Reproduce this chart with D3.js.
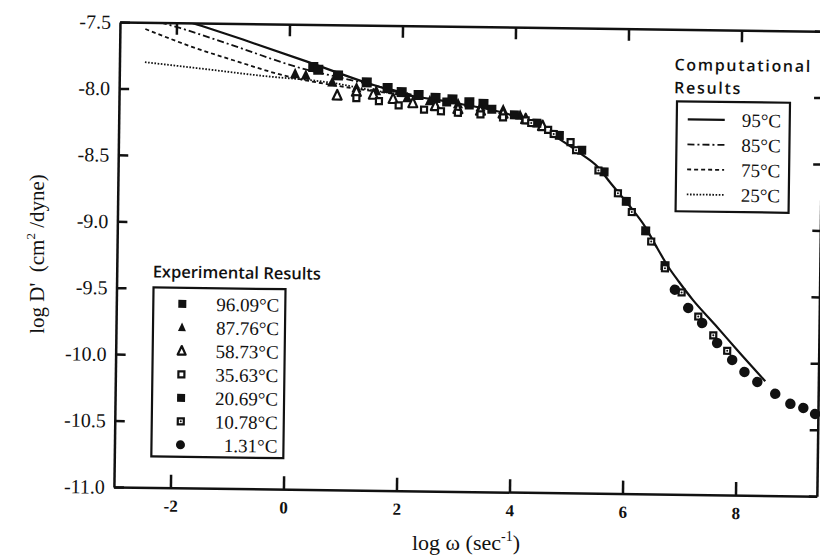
<!DOCTYPE html>
<html>
<head>
<meta charset="UTF-8">
<style>
  body { margin: 0; background: #fff; }
  svg { display: block; }
  text { fill: #111; }
</style>
</head>
<body>
<svg></svg>
<script src="https://d3js.org/d3.v7.min.js"></script>
<script>

// ---- data ----
const xTicks = [-2, 0, 2, 4, 6, 8];
const yTicks = [-7.5, -8.0, -8.5, -9.0, -9.5, -10.0, -10.5, -11.0];

const compLabels = ["95°C", "85°C", "75°C", "25°C"];
const comp95 = [[-2.55,-7.39],[-1.64,-7.51],[-0.82,-7.62],[0.32,-7.78],[1.39,-7.935],[2.0,-8.01],[3.0,-8.08],
  [4.0,-8.17],[4.5,-8.26],[4.81,-8.34],[5.2,-8.45],[5.48,-8.54],[5.71,-8.66],[6.07,-8.84],[6.34,-8.99],
  [6.56,-9.15],[6.76,-9.29],[6.95,-9.4],[7.2,-9.535],[7.6,-9.72],[8.0,-9.91],[8.5,-10.14]];
const comp85 = [[-2.55,-7.47],[-1.94,-7.539],[-1.0,-7.665],[0.2,-7.828],[1.0,-7.905],[1.6,-7.96],[2.2,-8.02]];
const comp75 = [[-2.55,-7.55],[-1.72,-7.68],[-1.0,-7.775],[0.05,-7.9],[0.8,-7.955],[1.5,-7.995],[2.2,-8.03]];
const comp25 = [[-2.55,-7.80],[-1.5,-7.845],[-0.5,-7.89],[0.78,-7.938],[1.5,-7.99],[2.2,-8.03]];

const expLabels = ["96.09°C", "87.76°C", "58.73°C", "35.63°C", "20.69°C", "10.78°C", "1.31°C"];
const exp9609 = [[0.43,-7.82],[0.52,-7.84],[0.87,-7.88],[1.38,-7.93],[1.75,-7.97],[2.0,-8.0],[2.3,-8.02],
  [2.6,-8.04],[2.9,-8.05],[3.2,-8.07],[3.45,-8.08]];
const exp8776 = [[0.11,-7.87],[0.3,-7.88],[0.77,-7.93],[1.2,-7.97],[1.55,-7.99],[2.1,-8.04],[2.5,-8.06],
  [3.0,-8.08],[3.4,-8.1],[3.8,-8.12],[4.1,-8.16]];
const exp5873 = [[0.86,-8.03],[1.2,-8.0],[1.5,-8.02],[1.85,-8.05],[2.2,-8.08],[2.6,-8.1],[3.0,-8.12],
  [3.4,-8.13],[3.8,-8.15],[4.2,-8.19],[4.5,-8.24]];
const exp3563 = [[1.2,-8.05],[1.6,-8.07],[1.95,-8.1],[2.4,-8.13],[2.7,-8.14],[3.0,-8.15],[3.4,-8.16],
  [3.8,-8.18],[4.2,-8.2],[4.6,-8.27],[5.0,-8.36]];
const exp2069 = [[2.8,-8.07],[3.2,-8.09],[3.6,-8.12],[4.0,-8.16],[4.4,-8.22],[4.8,-8.31],[5.2,-8.42],
  [5.6,-8.58],[6.0,-8.8],[6.35,-9.02],[6.7,-9.28]];
const exp1078 = [[4.3,-8.22],[4.7,-8.3],[5.1,-8.42],[5.5,-8.57],[5.85,-8.74],[6.1,-8.88],[6.45,-9.1],
  [6.7,-9.3],[7.0,-9.48],[7.3,-9.66],[7.57,-9.8],[7.82,-9.915]];
const exp131 = [[6.88,-9.46],[7.12,-9.596],[7.37,-9.708],[7.64,-9.857],[7.91,-9.983],[8.13,-10.072],
  [8.36,-10.146],[8.68,-10.234],[8.95,-10.308],[9.18,-10.337],[9.39,-10.381]];

// ---- layout ----
const width = 820, height = 557;
const plotW = 703, plotH = 465;

const svg = d3.select("svg").attr("width", width).attr("height", height);

// the scan is tilted slightly clockwise
const g = svg.append("g").attr("transform", "translate(120,22) rotate(0.75)");

const x = d3.scaleLinear().domain([-3, 9.44]).range([0, plotW]);
const y = d3.scaleLinear().domain([-7.5, -11]).range([0, plotH]);

const serif = "'Liberation Serif', 'DejaVu Serif', serif";

g.append("defs").append("clipPath").attr("id", "clip")
  .append("rect").attr("width", plotW).attr("height", plotH);

// axes, ticks point inward
let leftAxis = g.append("g")
  .call(d3.axisLeft(y).tickValues(yTicks).tickSizeInner(-10).tickSizeOuter(0).tickPadding(9)
    .tickFormat(d => d.toFixed(1)));
let bottomAxis = g.append("g").attr("transform", "translate(0," + plotH + ")")
  .call(d3.axisBottom(x).tickValues(xTicks).tickSizeInner(-13).tickSizeOuter(0).tickPadding(12)
    .tickFormat(d => String(d)));
let topAxis = g.append("g")
  .call(d3.axisTop(x).tickValues(xTicks).tickSizeInner(-12).tickSizeOuter(0).tickFormat(""));
let rightAxis = g.append("g").attr("transform", "translate(" + plotW + ",0)")
  .call(d3.axisRight(y).tickValues(yTicks).tickSizeInner(-8).tickSizeOuter(0).tickFormat(""));

[leftAxis, bottomAxis, topAxis, rightAxis].forEach(a => {
  a.select(".domain").attr("stroke", "#111").attr("stroke-width", 2.5);
  a.selectAll(".tick line").attr("stroke", "#111").attr("stroke-width", 2.5);
});
leftAxis.selectAll(".tick text").style("font-family", serif).style("font-size", "20px");
bottomAxis.selectAll(".tick text").style("font-family", serif).style("font-size", "17px")
  .style("font-weight", "bold");

// computational curves
const compSeries = [
  { data: comp95, dash: null, w: 2.2 },
  { data: comp85, dash: "7,3,2,3", w: 1.8 },
  { data: comp75, dash: "4,3", w: 1.8 },
  { data: comp25, dash: "1.6,1.6", w: 1.8 }
];

const line = d3.line().x(d => x(d[0])).y(d => y(d[1])).curve(d3.curveMonotoneX);

g.append("g").attr("clip-path", "url(#clip)")
  .selectAll("path")
  .data(compSeries)
  .enter()
  .append("path")
    .attr("d", d => line(d.data))
    .attr("fill", "none")
    .attr("stroke", "#111")
    .attr("stroke-width", d => d.w)
    .attr("stroke-dasharray", d => d.dash);

// experimental markers
const expSeries = [
  { data: exp9609, shape: "sqFill", s: 10 },
  { data: exp8776, shape: "triFill", s: 10 },
  { data: exp5873, shape: "triOpen", s: 9 },
  { data: exp3563, shape: "sqOpen", s: 8 },
  { data: exp2069, shape: "sqFill", s: 9 },
  { data: exp1078, shape: "sqDot", s: 8 },
  { data: exp131, shape: "circle", s: 10.5 }
];

function drawMarker(sel, shape, s) {
  if (shape === "sqFill") {
    sel.append("rect").attr("x", -s / 2).attr("y", -s / 2).attr("width", s).attr("height", s)
      .attr("fill", "#111");
  } else if (shape === "sqOpen" || shape === "sqDot") {
    sel.append("rect").attr("x", -s / 2 + 1).attr("y", -s / 2 + 1).attr("width", s - 2).attr("height", s - 2)
      .attr("fill", "#fff").attr("stroke", "#111").attr("stroke-width", 2.2);
    if (shape === "sqDot") sel.append("circle").attr("r", 1).attr("fill", "#111");
  } else if (shape === "triFill" || shape === "triOpen") {
    let h = s * 0.95;
    let p = "M0," + (-h / 2 - 1) + "L" + (s / 2) + "," + (h / 2) + "L" + (-s / 2) + "," + (h / 2) + "Z";
    if (shape === "triFill") sel.append("path").attr("d", p).attr("fill", "#111");
    else sel.append("path").attr("d", p).attr("fill", "#fff").attr("stroke", "#111")
      .attr("stroke-width", 2.2).attr("stroke-linejoin", "round");
  } else {
    sel.append("circle").attr("r", s / 2).attr("fill", "#111");
  }
}

expSeries.forEach(ser => {
  g.append("g")
    .selectAll("g")
    .data(ser.data)
    .enter()
    .append("g")
      .attr("transform", d => "translate(" + x(d[0]) + "," + y(d[1]) + ")")
      .each(function() { drawMarker(d3.select(this), ser.shape, ser.s); });
});

// computational legend
g.append("text").attr("x", 555).attr("y", 41)
  .style("font-family", "'Open Sans', sans-serif").style("font-weight", 600)
  .style("font-size", "16px").style("letter-spacing", "1.7px").text("Computational");
g.append("text").attr("x", 555).attr("y", 64)
  .style("font-family", "'Open Sans', sans-serif").style("font-weight", 600)
  .style("font-size", "16px").style("letter-spacing", "1.7px").text("Results");
g.append("rect").attr("x", 558).attr("y", 72).attr("width", 113).attr("height", 110)
  .attr("fill", "#fff").attr("stroke", "#111").attr("stroke-width", 2.2);

let compLeg = g.append("g").selectAll("g")
  .data(compSeries)
  .enter()
  .append("g")
    .attr("transform", (d, i) => "translate(0," + (90 + i * 25) + ")");
compLeg.append("line")
  .attr("x1", 569).attr("x2", 606)
  .attr("stroke", "#111")
  .attr("stroke-width", d => d.w)
  .attr("stroke-dasharray", d => d.dash);
compLeg.append("text")
  .attr("x", 623).attr("dy", "0.35em")
  .style("font-family", serif).style("font-size", "19px")
  .text((d, i) => compLabels[i]);

// experimental legend
g.append("text").attr("x", 36).attr("y", 255)
  .style("font-family", "'Open Sans', sans-serif").style("font-weight", 600)
  .style("font-size", "16.5px").text("Experimental Results");
g.append("rect").attr("x", 37).attr("y", 265).attr("width", 132).attr("height", 169)
  .attr("fill", "#fff").attr("stroke", "#111").attr("stroke-width", 2.2);

let expLeg = g.append("g").selectAll("g")
  .data(expSeries)
  .enter()
  .append("g")
    .attr("transform", (d, i) => "translate(0," + (281 + i * 23.5) + ")");
expLeg.append("g")
  .attr("transform", "translate(66,0)")
  .each(function(d) { drawMarker(d3.select(this), d.shape, d.shape === "circle" ? 9 : 8); });
expLeg.append("text")
  .attr("x", 163).attr("dy", "0.35em").attr("text-anchor", "end")
  .style("font-family", serif).style("font-size", "19px")
  .text((d, i) => expLabels[i]);

// axis titles
let yTitle = svg.append("text")
  .attr("transform", "translate(44,254) rotate(-90)")
  .attr("text-anchor", "middle")
  .style("font-family", serif).style("font-size", "21px").style("white-space", "pre");
yTitle.append("tspan").text("log D'  (cm");
yTitle.append("tspan").attr("dy", -9).style("font-size", "13px").text("2");
yTitle.append("tspan").attr("dy", 9).text(" /dyne)");

let xTitle = svg.append("text")
  .attr("x", 466).attr("y", 550)
  .attr("text-anchor", "middle")
  .style("font-family", serif).style("font-size", "22px");
xTitle.append("tspan").text("log ω (sec");
xTitle.append("tspan").attr("dy", -9).style("font-size", "14px").text("-1");
xTitle.append("tspan").attr("dy", 9).text(")");

</script>
</body>
</html>
